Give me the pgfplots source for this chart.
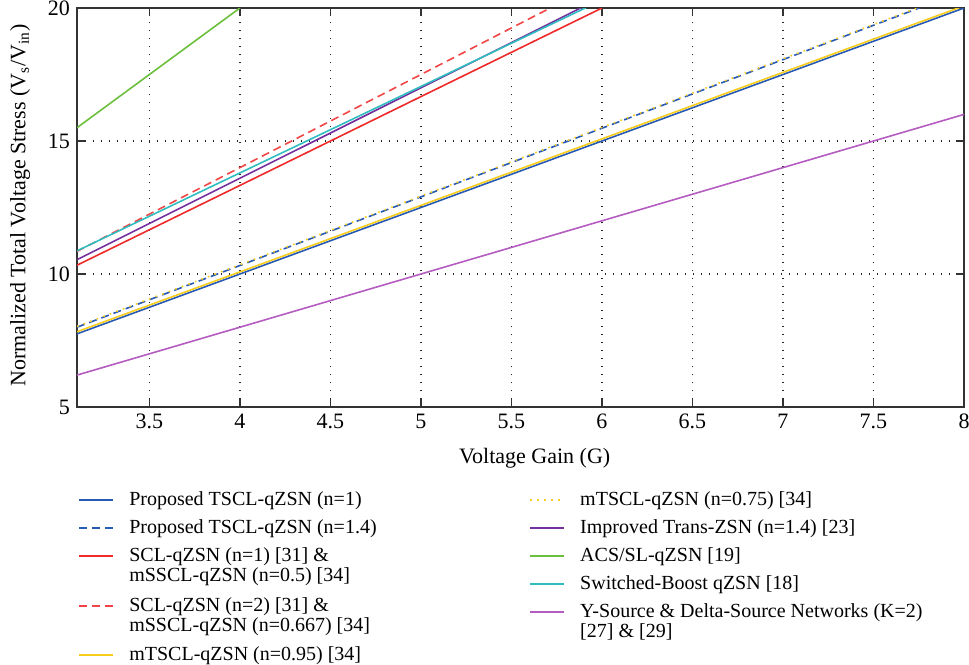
\documentclass[border=0pt]{standalone}
\usepackage{fontspec}
\setmainfont{Liberation Serif}
\usepackage{pgfplots}
\pgfplotsset{compat=1.18}
\definecolor{cblue}{RGB}{40,90,180}
\definecolor{cred}{RGB}{238,42,42}
\definecolor{credd}{RGB}{242,70,70}
\definecolor{cyel}{RGB}{247,205,29}
\definecolor{cpur}{RGB}{117,48,160}
\definecolor{cgreen}{RGB}{108,191,60}
\definecolor{ccyan}{RGB}{47,189,191}
\definecolor{clpur}{RGB}{180,92,192}
\newcommand{\twoline}[2]{\begin{tabular}[t]{@{}l@{}}#1\\\relax #2\end{tabular}}
\pgfplotsset{
  mylegend/.style={
    legend cell align=left,
    legend image code/.code={\draw[##1, line width=1pt] (0pt,2.7pt) -- (17pt,2.7pt);},
    legend style={anchor=north west,
      draw=none, fill=none, inner xsep=0pt, inner ysep=0pt,
      font=\fontsize{10}{10}\selectfont,
      cells={anchor=base west},
      nodes={text depth=, inner sep=2pt},
      row sep=0.9pt, column sep=5.5pt},
  },
}
\begin{document}
\begin{tikzpicture}
\path[use as bounding box] (0pt,0pt) rectangle (484.5pt,-332pt);
\begin{axis}[
  at={(38.5pt,-203.5pt)}, anchor=south west,
  width=443.5pt, height=199.5pt, scale only axis,
  xmin=3.1, xmax=8, ymin=5, ymax=20,
  xtick={3.5,4,4.5,5,5.5,6,6.5,7,7.5,8},
  ytick={5,10,15,20},
  tick align=inside, xtick pos=both, ytick pos=both,
  xticklabel pos=lower, yticklabel pos=left,
  major tick length=4pt,
  tick style={black!80, line width=0.6pt},
  axis line style={black!80, line width=0.8pt},
  grid=major,
  major grid style={black!85, line width=0.6pt, dash pattern=on 0.7pt off 3.3pt},
  /pgf/number format/assume math mode=true,
  tick label style={font=\fontsize{11}{13}\selectfont},
  xlabel={Voltage Gain (G)},
  ylabel={Normalized Total Voltage Stress (V\textsubscript{s}/V\textsubscript{in})},
  label style={font=\fontsize{11}{13}\selectfont},
  xlabel style={at={(axis description cs:0.516,-0.128)}, anchor=center},
  ylabel style={at={(axis description cs:-0.064,0.505)}, anchor=center},
  every axis plot/.append style={line width=0.8pt},
  mylegend,
  legend style={at={(axis description cs:0.001,-0.2005)}},
]
\addplot[draw=cblue] coordinates {(3.1,7.75) (4,10) (5,12.5) (6,15) (7,17.5) (8,20)};
\addlegendentry{Proposed TSCL-qZSN (n=1)}
\addplot[draw=cblue, dash pattern=on 4pt off 2.5pt] coordinates {(3.1,8.0) (4,10.32) (5,12.9) (6,15.48) (7,18.06) (8,20.64)};
\addlegendentry{Proposed TSCL-qZSN (n=1.4)}
\addplot[draw=cred] coordinates {(3.1,10.33) (4,13.33) (5,16.67) (6,20)};
\addlegendentry{\twoline{SCL-qZSN (n=1) [31] \&}{mSSCL-qZSN (n=0.5) [34]}}
\addplot[draw=credd, dash pattern=on 4pt off 2.5pt] coordinates {(3.1,10.85) (4,14) (5,17.5) (6,21)};
\addlegendentry{\twoline{SCL-qZSN (n=2) [31] \&}{mSSCL-qZSN (n=0.667) [34]}}
\addplot[draw=cyel] coordinates {(3.1,7.83) (4,10.08) (5,12.58) (6,15.08) (7,17.58) (8,20.08)};
\addlegendentry{mTSCL-qZSN (n=0.95) [34]}
\addplot[draw=cyel, dash pattern=on 0.8pt off 2.7pt, forget plot] coordinates {(3.1,8.03) (4,10.35) (5,12.93) (6,15.51) (7,18.09) (8,20.67)};
\addplot[draw=cpur, forget plot] coordinates {(3.1,10.54) (4,13.6) (5,17) (6,20.4)};
\addplot[draw=cgreen, forget plot] coordinates {(3.1,15.5) (4,20)};
\addplot[draw=ccyan, forget plot] coordinates {(3.1,10.87) (4,13.8) (5,17.05) (6,20.3)};
\addplot[draw=clpur, forget plot] coordinates {(3.1,6.2) (4,8) (5,10) (6,12) (7,14) (8,16)};
\end{axis}
\begin{axis}[
  at={(38.5pt,-203.5pt)}, anchor=south west,
  width=443.5pt, height=199.5pt, scale only axis,
  hide axis, xmin=0, xmax=1, ymin=0, ymax=1,
  mylegend,
  legend style={at={(axis description cs:0.5094,-0.2005)}},
]
\addlegendimage{draw=cyel, dash pattern=on 0.8pt off 2.7pt}
\addlegendentry{mTSCL-qZSN (n=0.75) [34]}
\addlegendimage{draw=cpur}
\addlegendentry{Improved Trans-ZSN (n=1.4) [23]}
\addlegendimage{draw=cgreen}
\addlegendentry{ACS/SL-qZSN [19]}
\addlegendimage{draw=ccyan}
\addlegendentry{Switched-Boost qZSN [18]}
\addlegendimage{draw=clpur}
\addlegendentry{\twoline{Y-Source \& Delta-Source Networks (K=2)}{[27] \& [29]}}
\end{axis}
\end{tikzpicture}
\end{document}
